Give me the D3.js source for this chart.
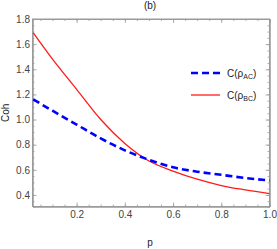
<!DOCTYPE html>
<html>
<head>
<meta charset="utf-8">
<script src="https://cdn.jsdelivr.net/npm/d3@7"></script>
<style>
  body { margin: 0; background: #fff; }
  text { font-family: "Liberation Sans", Arial, sans-serif; }
</style>
</head>
<body>
<svg id="chart" width="277" height="249"></svg>
<script>
const pValues = [0.02, 0.1, 0.2, 0.3, 0.4, 0.5, 0.6, 0.7, 0.8, 0.9, 1.0];
const cohAC = [1.16, 1.07, 0.96, 0.85, 0.755, 0.68, 0.62, 0.585, 0.56, 0.535, 0.515];
const cohBC = [1.69, 1.48, 1.24, 1.0, 0.81, 0.67, 0.59, 0.525, 0.475, 0.44, 0.41];
const xTicks = [0.2, 0.4, 0.6, 0.8, 1.0];
const yTicks = [0.4, 0.6, 0.8, 1.0, 1.2, 1.4, 1.6, 1.8];

const width = 277, height = 249;
const margin = { top: 19, right: 7.5, bottom: 42.5, left: 32.5 };
const svg = d3.select('#chart');

const x = d3.scaleLinear()
  .domain([0.017, 1.0])
  .range([margin.left, width - margin.right]);
const y = d3.scaleLinear()
  .domain([0.308, 1.8])
  .range([height - margin.bottom, margin.top]);

const frameColor = '#9a9a9a';
const x0 = margin.left, x1 = width - margin.right;
const y0 = height - margin.bottom, y1 = margin.top;

// minor ticks
const xMinor = d3.range(0.05, 1.0001, 0.05).filter(v => v >= 0.017);
const yMinor = d3.range(0.35, 1.8001, 0.05);

const fmt = d3.format('.1f');

function styleAxis(g) {
  g.select('.domain').attr('stroke', frameColor);
  g.selectAll('.tick line').attr('stroke', frameColor).attr('stroke-width', 0.8);
  g.selectAll('.tick text').attr('fill', '#444').style('font-size', '10px');
}

// bottom axis
svg.append('g')
  .attr('transform', `translate(0,${y0})`)
  .call(d3.axisBottom(x).tickValues(xMinor).tickSize(-2).tickFormat(''))
  .call(styleAxis);
svg.append('g')
  .attr('transform', `translate(0,${y0})`)
  .call(d3.axisBottom(x).tickValues(xTicks).tickSizeInner(-4).tickSizeOuter(0).tickPadding(4).tickFormat(fmt))
  .call(styleAxis);
// top axis
svg.append('g')
  .attr('transform', `translate(0,${y1})`)
  .call(d3.axisTop(x).tickValues(xMinor).tickSize(-2).tickFormat(''))
  .call(styleAxis);
svg.append('g')
  .attr('transform', `translate(0,${y1})`)
  .call(d3.axisTop(x).tickValues(xTicks).tickSizeInner(-4).tickSizeOuter(0).tickFormat(''))
  .call(styleAxis);
// left axis
svg.append('g')
  .attr('transform', `translate(${x0},0)`)
  .call(d3.axisLeft(y).tickValues(yMinor).tickSize(-2).tickFormat(''))
  .call(styleAxis);
svg.append('g')
  .attr('transform', `translate(${x0},0)`)
  .call(d3.axisLeft(y).tickValues(yTicks).tickSizeInner(-4).tickSizeOuter(0).tickPadding(2.5).tickFormat(fmt))
  .call(styleAxis);
// right axis
svg.append('g')
  .attr('transform', `translate(${x1},0)`)
  .call(d3.axisRight(y).tickValues(yMinor).tickSize(-2).tickFormat(''))
  .call(styleAxis);
svg.append('g')
  .attr('transform', `translate(${x1},0)`)
  .call(d3.axisRight(y).tickValues(yTicks).tickSizeInner(-4).tickSizeOuter(0).tickFormat(''))
  .call(styleAxis);

// frame
svg.append('rect')
  .attr('x', x0).attr('y', y1)
  .attr('width', x1 - x0).attr('height', y0 - y1)
  .attr('fill', 'none').attr('stroke', frameColor).attr('stroke-width', 1);

const line = d3.line()
  .x((d, i) => x(pValues[i]))
  .y(d => y(d))
  .curve(d3.curveMonotoneX);

svg.append('path')
  .datum(cohBC)
  .attr('fill', 'none')
  .attr('stroke', '#ff1a1a')
  .attr('stroke-width', 1.3)
  .attr('d', line);

svg.append('path')
  .datum(cohAC)
  .attr('fill', 'none')
  .attr('stroke', '#0000ff')
  .attr('stroke-width', 2.6)
  .attr('stroke-dasharray', '7,4')
  .attr('d', line);

// legend
const legend = [
  { sub: 'AC', color: '#0000ff', dash: '7,4', w: 2.6, y: 73 },
  { sub: 'BC', color: '#ff1a1a', dash: null, w: 1.3, y: 95 }
];
legend.forEach(l => {
  svg.append('line')
    .attr('x1', 191).attr('x2', 220)
    .attr('y1', l.y).attr('y2', l.y)
    .attr('stroke', l.color)
    .attr('stroke-width', l.w)
    .attr('stroke-dasharray', l.dash);
  const t = svg.append('text')
    .attr('x', 227).attr('y', l.y + 3.5)
    .attr('fill', '#222')
    .style('font-size', '10px');
  t.append('tspan').text('C(ρ');
  t.append('tspan').attr('dy', 2).style('font-size', '7px').text(l.sub);
  t.append('tspan').attr('dy', -2).text(')');
});

// title and axis labels
svg.append('text')
  .attr('x', 150).attr('y', 9)
  .attr('text-anchor', 'middle')
  .attr('fill', '#222')
  .style('font-size', '10px')
  .text('(b)');

svg.append('text')
  .attr('x', 150).attr('y', 246)
  .attr('text-anchor', 'middle')
  .attr('fill', '#222')
  .style('font-size', '10px')
  .text('p');

svg.append('text')
  .attr('transform', `translate(9,${(y0 + y1) / 2}) rotate(-90)`)
  .attr('text-anchor', 'middle')
  .attr('fill', '#222')
  .style('font-size', '10px')
  .text('Coh');
</script>
</body>
</html>
